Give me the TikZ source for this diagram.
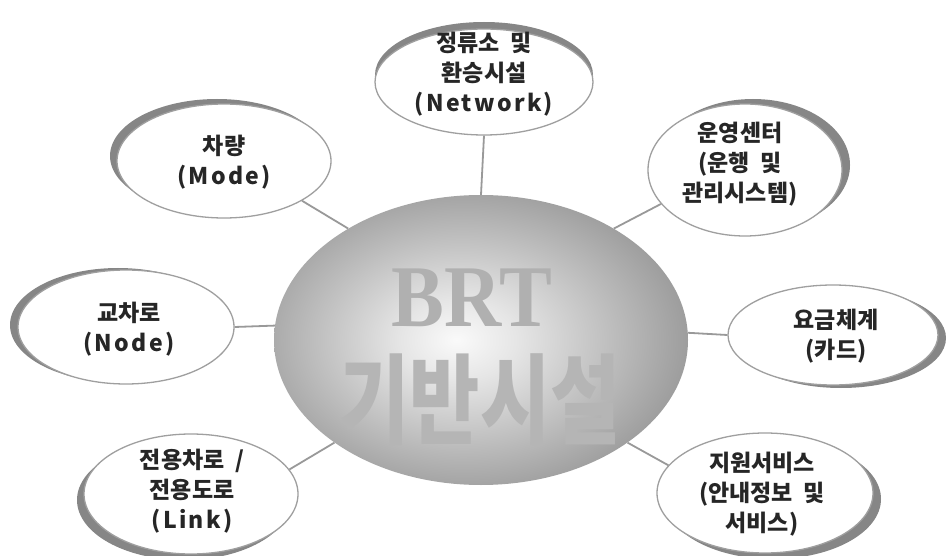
\documentclass[tikz,border=0pt]{standalone}
\usepackage{fontspec}
\newfontfamily\kr{Noto Sans CJK KR}
\newfontfamily\krw{Noto Sans CJK KR}[LetterSpace=10]
\newfontfamily\serifb{Liberation Serif}
\usetikzlibrary{shapes.geometric,shadows}
\pgfdeclareradialshading{hubshade}{\pgfpoint{-3bp}{0bp}}{rgb(0bp)=(0.98,0.98,0.98); rgb(7bp)=(0.9,0.9,0.9); rgb(28bp)=(0.6,0.6,0.6); rgb(50bp)=(0.36,0.36,0.36); rgb(72bp)=(0.34,0.34,0.34)}
\begin{document}
\begin{tikzpicture}[x=1pt,y=-1pt,
  sat/.style={ellipse, draw=gray!75, line width=1.3pt, fill=white, inner sep=0pt},
  shd/.style 2 args={drop shadow={shadow xshift=#1, shadow yshift=#2, fill=gray!95, opacity=1}},
  lbl/.style={font=\kr\bfseries\fontsize{23}{30}\selectfont, align=center, text=black!85, inner sep=0pt},
  conn/.style={draw=gray!80, line width=1.8pt}]
\fill[white] (0,0) rectangle (948,556);
\useasboundingbox (0,0) rectangle (948,556);

% hub
\node (hub) [ellipse, minimum width=414, minimum height=290, inner sep=0pt, shading=hubshade, draw=none] at (481,340) {};
\node (brt) [font=\serifb\bfseries\fontsize{88}{88}\selectfont, text=gray!62, xscale=0.9, inner sep=0pt] at (472,298) {BRT};
\node (kibahn) [font=\kr\bfseries\fontsize{98}{98}\selectfont, text=gray!58, xscale=0.78, inner sep=0pt] at (480,400) {기반시설};

% satellites
\node (top) [sat, shd={0pt}{7pt}, minimum width=218, minimum height=106] at (484,82) {};
\node (toplbl) [lbl] at (484,74) {정류소~ 및\\환승시설\\{\krw\bfseries(Network)}};

\node (mode) [sat, shd={-7pt}{5pt}, minimum width=214, minimum height=114] at (224,161) {};
\node (modelbl) [lbl] at (224,162) {차량\\{\krw\bfseries(Mode)}};

\node (ops) [sat, shd={8pt}{5pt}, minimum width=194, minimum height=132] at (745,170) {};
\node (opslbl) [lbl] at (740,164) {운영센터\\(운행~ 및\\관리시스템)};

\node (nd) [sat, shd={-8pt}{2pt}, minimum width=216, minimum height=114] at (126,327) {};
\node (ndlbl) [lbl] at (129,329) {교차로\\{\krw\bfseries(Node)}};

\node (fare) [sat, shd={8pt}{-3pt}, minimum width=210, minimum height=100] at (833,335) {};
\node (farelbl) [lbl] at (836,336) {요금체계\\(카드)};

\node (lnk) [sat, shd={-7pt}{-6pt}, minimum width=214, minimum height=120] at (191,494) {};
\node (lnklbl) [lbl] at (192,491) {전용차로~ /\\전용도로\\{\krw\bfseries(Link)}};

\node (sup) [sat, shd={8pt}{-6pt}, minimum width=216, minimum height=120] at (765,493) {};
\node (suplbl) [lbl] at (762,494) {지원서비스\\(안내정보~ 및\\서비스)};

% connectors
\draw[conn] (hub.90) -- (top.270);
\draw[conn] (hub.140) -- (mode.-27);
\draw[conn] (hub.40) -- (ops.202);
\draw[conn] (hub.176) -- (nd.0);
\draw[conn] (hub.2) -- (fare.180);
\draw[conn] (hub.215) -- (lnk.14);
\draw[conn] (hub.-35) -- (sup.164);
\end{tikzpicture}
\end{document}
